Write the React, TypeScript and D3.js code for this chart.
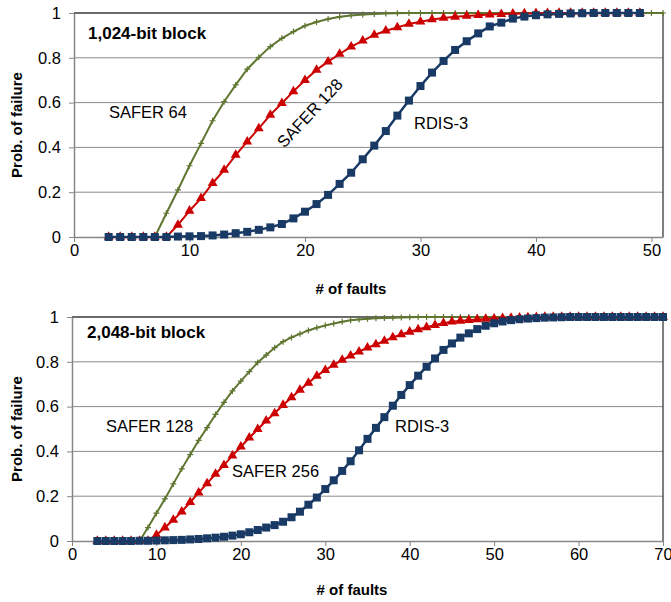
import React, { useRef, useEffect } from 'react';
import * as d3 from 'd3';

// fault counts start at 3 in every series, one point per fault
const FIRST_FAULT = 3;

const yTicks = [0, 0.2, 0.4, 0.6, 0.8, 1];
const topXTicks = [0, 10, 20, 30, 40, 50];
const bottomXTicks = [0, 10, 20, 30, 40, 50, 60, 70];

// 1,024-bit block
const top64 = [
  0, 0, 0, 0, 0, 0.106, 0.21, 0.318, 0.418, 0.519, 0.604, 0.679, 0.749, 0.802, 0.85,
  0.887, 0.917, 0.943, 0.96, 0.973, 0.983, 0.989, 0.993, 0.996, 0.998, 0.999, 1, 1, 1, 1,
  1, 1, 1, 1, 1, 1, 1, 1, 1, 1, 1, 1, 1, 1, 1, 1, 1, 1, 1,
];
const top128 = [
  0, 0, 0, 0, 0, 0, 0.054, 0.117, 0.173, 0.24, 0.299, 0.366, 0.426, 0.485, 0.545,
  0.597, 0.65, 0.7, 0.746, 0.783, 0.817, 0.85, 0.876, 0.902, 0.921, 0.936, 0.951, 0.961,
  0.971, 0.978, 0.983, 0.987, 0.99, 0.993, 0.995, 0.997, 0.998, 0.999, 0.999, 1, 1, 1, 1,
  1, 1, 1, 1,
];
const topRdis = [
  0, 0, 0, 0, 0, 0, 0.002, 0.003, 0.004, 0.007, 0.011, 0.017, 0.023, 0.032, 0.043,
  0.058, 0.083, 0.113, 0.147, 0.188, 0.237, 0.287, 0.347, 0.408, 0.473, 0.542, 0.609,
  0.674, 0.734, 0.786, 0.835, 0.874, 0.909, 0.94, 0.957, 0.975, 0.984, 0.99, 0.994,
  0.996, 0.998, 0.999, 1, 1, 1, 1, 1,
];

// 2,048-bit block
const bottom128 = [
  0, 0, 0, 0, 0, 0, 0.06, 0.124, 0.188, 0.255, 0.322, 0.386, 0.449, 0.506, 0.565,
  0.619, 0.67, 0.714, 0.756, 0.797, 0.83, 0.863, 0.89, 0.909, 0.925, 0.94, 0.952, 0.962,
  0.971, 0.979, 0.985, 0.989, 0.992, 0.994, 0.996, 0.997, 0.998, 0.999, 1, 1, 1, 1, 1,
  1, 1, 1, 1, 1, 1, 1, 1, 1, 1, 1, 1, 1, 1, 1, 1, 1, 1, 1, 1, 1, 1, 1, 1, 1,
];
const bottom256 = [
  0, 0, 0, 0, 0, 0, 0, 0.027, 0.06, 0.094, 0.131, 0.173, 0.216, 0.257, 0.299, 0.339,
  0.381, 0.421, 0.461, 0.499, 0.537, 0.57, 0.607, 0.641, 0.674, 0.706, 0.737, 0.763,
  0.786, 0.808, 0.827, 0.845, 0.863, 0.878, 0.893, 0.909, 0.922, 0.934, 0.945, 0.954,
  0.964, 0.972, 0.979, 0.983, 0.986, 0.989, 0.991, 0.993, 0.995, 0.996, 0.997, 0.998,
  0.999, 1, 1, 1, 1, 1, 1, 1, 1, 1, 1, 1, 1, 1, 1, 1,
];
const bottomRdis = [
  0, 0, 0, 0, 0, 0.001, 0.001, 0.002, 0.003, 0.004, 0.005, 0.007, 0.009, 0.012, 0.015,
  0.019, 0.024, 0.03, 0.039, 0.049, 0.06, 0.071, 0.086, 0.106, 0.131, 0.162, 0.194,
  0.232, 0.271, 0.313, 0.356, 0.405, 0.456, 0.505, 0.553, 0.604, 0.652, 0.696, 0.738,
  0.778, 0.815, 0.853, 0.882, 0.908, 0.927, 0.946, 0.961, 0.972, 0.98, 0.986, 0.99,
  0.993, 0.995, 0.997, 0.998, 0.999, 1, 1, 1, 1, 1, 1, 1, 1, 1, 1, 1, 1,
];

const GREEN = '#5f7631';
const RED = '#cc0000';
const BLUE = '#1a3a66';
const FONT = '"Liberation Sans", Arial, sans-serif';

type Label = { text: string; x: number; y: number; rotate?: number };

function drawPanel(svg: any, o: any) {
  const x = d3.scaleLinear().domain([0, o.xMax]).range([o.left, o.right]);
  const y = d3.scaleLinear().domain([0, 1]).range([o.bottom, o.top]);

  // gridlines
  svg.append('g')
    .selectAll('line')
    .data(yTicks.slice(1, -1))
    .enter()
    .append('line')
    .attr('x1', o.left).attr('x2', o.right)
    .attr('y1', (d: number) => y(d)).attr('y2', (d: number) => y(d))
    .attr('stroke', '#8a8a8a').attr('stroke-width', 1);

  // top and right frame
  svg.append('path')
    .attr('d', `M${o.left},${y(1)}H${o.right}V${o.bottom}`)
    .attr('fill', 'none').attr('stroke', '#3a3a3a').attr('stroke-width', 1.3);

  const xAxis = svg.append('g')
    .attr('transform', `translate(0,${o.bottom})`)
    .call(d3.axisBottom(x).tickValues(o.xTicks).tickFormat(d3.format('d')).tickSize(5).tickSizeOuter(0).tickPadding(2));
  const yAxis = svg.append('g')
    .attr('transform', `translate(${o.left},0)`)
    .call(d3.axisLeft(y).tickValues(yTicks).tickFormat((d: any) => String(d)).tickSize(5).tickSizeOuter(0).tickPadding(8));
  [xAxis, yAxis].forEach((g) => {
    g.select('.domain').attr('stroke', '#868686').attr('stroke-width', 1.5);
    g.selectAll('.tick line').attr('stroke', '#868686');
    g.selectAll('text').attr('font-family', FONT).attr('font-size', 16.5).attr('fill', '#000');
  });

  const line = d3.line<number>()
    .x((d, i) => x(FIRST_FAULT + i))
    .y((d) => y(d));

  const [s1, s2, s3] = o.series;

  // green, plus markers
  svg.append('path').attr('d', line(s1)).attr('fill', 'none').attr('stroke', GREEN).attr('stroke-width', 2);
  svg.append('g').selectAll('path').data(s1).enter().append('path')
    .attr('d', (d: number, i: number) => `M${x(FIRST_FAULT + i) - 3},${y(d)}h6M${x(FIRST_FAULT + i)},${y(d) - 3}v6`)
    .attr('stroke', GREEN).attr('stroke-width', 1.2);

  // red, triangles
  svg.append('path').attr('d', line(s2)).attr('fill', 'none').attr('stroke', RED).attr('stroke-width', 2);
  svg.append('g').selectAll('path').data(s2).enter().append('path')
    .attr('d', d3.symbol().type(d3.symbolTriangle).size(42)())
    .attr('transform', (d: number, i: number) => `translate(${x(FIRST_FAULT + i)},${y(d)})`)
    .attr('fill', RED);

  // blue, squares
  svg.append('path').attr('d', line(s3)).attr('fill', 'none').attr('stroke', BLUE).attr('stroke-width', 2.5);
  svg.append('g').selectAll('rect').data(s3).enter().append('rect')
    .attr('x', (d: number, i: number) => x(FIRST_FAULT + i) - 4)
    .attr('y', (d: number) => y(d) - 4)
    .attr('width', 8).attr('height', 8)
    .attr('fill', BLUE);

  // block title
  svg.append('text')
    .attr('x', o.titleX).attr('y', o.titleY)
    .attr('font-family', FONT).attr('font-size', 17).attr('font-weight', 'bold')
    .text(o.title);

  o.labels.forEach((l: Label) => {
    const t = svg.append('text')
      .attr('font-family', FONT).attr('font-size', 16.5).attr('fill', '#000')
      .text(l.text);
    if (l.rotate) {
      t.attr('text-anchor', 'middle')
        .attr('transform', `translate(${l.x},${l.y}) rotate(${l.rotate})`);
    } else {
      t.attr('x', l.x).attr('y', l.y);
    }
  });

  svg.append('text')
    .attr('x', o.xTitleX).attr('y', o.xTitleY)
    .attr('text-anchor', 'middle')
    .attr('font-family', FONT).attr('font-size', 15).attr('font-weight', 'bold')
    .text('# of faults');

  svg.append('text')
    .attr('transform', `translate(22,${(o.top + o.bottom) / 2}) rotate(-90)`)
    .attr('text-anchor', 'middle')
    .attr('font-family', FONT).attr('font-size', 15).attr('font-weight', 'bold')
    .text('Prob. of failure');
}

const App = () => {
  const ref = useRef<SVGSVGElement>(null);

  useEffect(() => {
    const svg = d3.select(ref.current);
    svg.selectAll('*').remove();

    drawPanel(svg, {
      left: 74, right: 663, top: 13, bottom: 237, xMax: 51, xTicks: topXTicks,
      series: [top64, top128, topRdis],
      title: '1,024-bit block', titleX: 88, titleY: 39, xTitleX: 351, xTitleY: 294,
      labels: [
        { text: 'SAFER 64', x: 109, y: 118 },
        { text: 'SAFER 128', x: 314, y: 117, rotate: -47 },
        { text: 'RDIS-3', x: 414, y: 129 },
      ],
    });

    drawPanel(svg, {
      left: 72, right: 663, top: 317, bottom: 541, xMax: 70, xTicks: bottomXTicks,
      series: [bottom128, bottom256, bottomRdis],
      title: '2,048-bit block', titleX: 87, titleY: 338, xTitleX: 352, xTitleY: 595,
      labels: [
        { text: 'SAFER 128', x: 106, y: 432 },
        { text: 'SAFER 256', x: 232, y: 477 },
        { text: 'RDIS-3', x: 395, y: 432 },
      ],
    });
  }, []);

  return (
    <svg ref={ref} width={671} height={602}
      style={{ position: 'absolute', left: 0, top: 0, background: '#fff' }} />
  );
};

export default App;
